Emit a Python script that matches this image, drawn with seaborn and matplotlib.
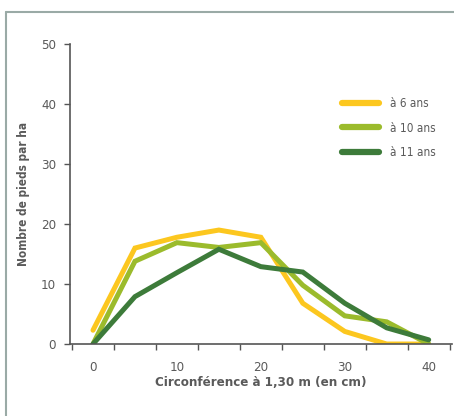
import pandas as pd
import matplotlib.pyplot as plt
import seaborn as sns
from matplotlib.lines import Line2D
from matplotlib.ticker import MultipleLocator

# Data
circ = [0, 5, 10, 15, 20, 25, 30, 35, 40]
age6 = [2.3, 16.0, 17.8, 19.0, 17.8, 6.8, 2.1, 0.0, 0.0]
age10 = [0.0, 13.8, 16.9, 16.1, 16.9, 9.8, 4.7, 3.7, 0.0]
age11 = [0.0, 7.9, 11.9, 15.8, 12.9, 12.0, 6.8, 2.7, 0.7]
series = ["à 6 ans", "à 10 ans", "à 11 ans"]
colors = ["#fcc71f", "#9bbb2c", "#3d7b3a"]

df = pd.DataFrame({"circ": circ * 3,
                   "n": age6 + age10 + age11,
                   "age": [s for s in series for _ in circ]})

sns.set_style("white")
plt.rcParams['font.family'] = ['DejaVu Sans']
plt.rcParams['font.stretch'] = 'condensed'
txt = "#5a5a5a"

fig = plt.figure(figsize=(4.54, 4.16), dpi=100)
ax = fig.add_axes([0.154, 0.173, 0.842, 0.721])
sns.lineplot(data=df, x="circ", y="n", hue="age", palette=dict(zip(series, colors)),
             linewidth=3.6, ax=ax, legend=False, solid_joinstyle="miter")

ax.set_xlim(-2.75, 42.8)
ax.set_ylim(0, 50)
ax.xaxis.set_major_locator(MultipleLocator(10))
ax.set_xticks([-2.5 + 5 * i for i in range(10)], minor=True)
ax.set_yticks([0, 10, 20, 30, 40, 50])
ax.tick_params(axis="x", which="major", bottom=True, length=0, pad=12, labelsize=9.5, labelcolor=txt)
ax.tick_params(axis="x", which="minor", bottom=True, length=4, width=1, color="#555555", direction="out")
ax.tick_params(axis="y", left=True, length=4, width=1, color="#555555", direction="out", pad=6,
               labelsize=9.5, labelcolor=txt)
for s in ["top", "right"]:
    ax.spines[s].set_visible(False)
for s in ["left", "bottom"]:
    ax.spines[s].set_color("#555555")
    ax.spines[s].set_linewidth(1.2)

ax.set_xlabel("Circonférence à 1,30 m (en cm)", fontsize=9.5, fontweight="bold", color=txt, labelpad=2)
ax.set_ylabel("Nombre de pieds par ha", fontsize=8.5, fontweight="bold", color=txt, labelpad=8)

handles = [Line2D([0], [0], color=c, lw=4.5) for c in colors]
ax.legend(handles, series, loc="upper right", bbox_to_anchor=(0.985, 0.858), frameon=False,
          handlelength=3.2, fontsize=8.5, labelcolor=txt, labelspacing=0.95, handletextpad=0.9)

# outer frame
fig.add_artist(Line2D([0.013, 0.013], [0, 0.971], color="#9aaaa6", lw=1.5, transform=fig.transFigure))
fig.add_artist(Line2D([0.013, 1], [0.971, 0.971], color="#9aaaa6", lw=1.5, transform=fig.transFigure))

fig.savefig("out.png", dpi=100)
